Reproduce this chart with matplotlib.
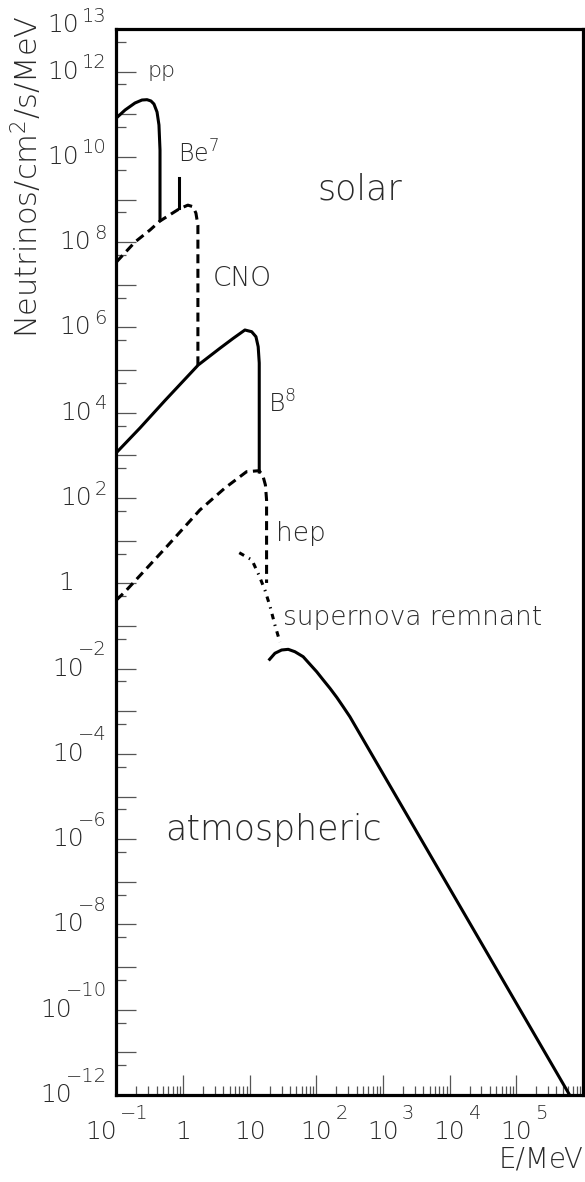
import numpy as np
import matplotlib
matplotlib.use("Agg")
import matplotlib.pyplot as plt
import matplotlib.transforms as mtransforms
from matplotlib.ticker import FixedLocator, NullFormatter

# Neutrino flux spectra: energy in MeV, flux in neutrinos / cm^2 / s / MeV
pp_E = [0.100, 0.135, 0.190, 0.242, 0.288, 0.330, 0.366, 0.407, 0.435, 0.451, 0.451]
pp_F = [8.2e10, 1.26e11, 1.84e11, 2.16e11, 2.2e11, 2.05e11, 1.74e11, 1.13e11, 5.6e10, 1.45e10, 3.3e8]

be7_E = [0.87, 0.87]
be7_F = [3.2e9, 6.3e8]

cno_E = [0.100, 0.190, 0.319, 0.451, 0.869, 1.18, 1.41, 1.56, 1.67, 1.67]
cno_F = [3.43e7, 1.01e8, 1.93e8, 3.14e8, 6.0e8, 7.4e8, 6.8e8, 4.8e8, 2.5e8, 1.32e5]

b8_E = [0.100, 0.226, 0.536, 1.69, 3.57, 5.66, 8.47, 10.7, 12.4, 13.4, 13.9, 13.9]
b8_F = [1.16e3, 4.40e3, 1.94e4, 1.32e5, 3.25e5, 5.57e5, 8.73e5, 7.96e5, 6.08e5, 3.54e5,
        1.47e5, 408]

hep_E = [0.100, 0.135, 0.568, 1.79, 4.25, 8.97, 13.9, 15.8, 17.2, 17.9, 17.9]
hep_F = [0.406, 0.637, 7.23, 52.5, 172, 415, 438, 329, 202, 90, 1.02]

snr_E = [6.97, 10.8, 13.7, 16.9, 20.1, 23.9, 28.4]
snr_F = [5.22, 3.52, 1.57, 0.697, 0.294, 0.105, 0.042]

atm_E = [19.9, 23.9, 30.1, 37.8, 47.6, 63.4, 77.1, 101, 125, 160, 203, 252, 318, 6.3e5]
atm_F = [1.65e-2, 2.29e-2, 2.73e-2, 2.83e-2, 2.49e-2, 1.90e-2, 1.35e-2, 8.46e-3, 5.56e-3,
         3.45e-3, 2.10e-3, 1.28e-3, 7.45e-4, 1.0e-12]

# Axis decades and labels
x_label_exps = [-1, 0, 1, 2, 3, 4, 5]
y_label_exps = [13, 12, 10, 8, 6, 4, 2, 0, -2, -4, -6, -8, -10, -12]

# Curve annotations: (text, E, flux, fontsize)
annotations = [
    ("pp", 0.288, 7.5e11, 16),
    (r"Be$^7$", 0.843, 7.2e9, 17),
    ("CNO", 2.81, 9.4e6, 19),
    ("solar", 105, 1.03e9, 25),
    (r"B$^8$", 18.7, 9.9e3, 18),
    ("hep", 24.7, 9.8, 19),
    ("supernova remnant", 31.5, 0.105, 19),
    ("atmospheric", 0.536, 9.6e-7, 25),
]

plt.rcParams["font.family"] = ["DejaVu Sans"]
plt.rcParams["font.weight"] = "light"
plt.rcParams["mathtext.fontset"] = "dejavusans"
plt.rcParams["lines.scale_dashes"] = False

W, H = 585, 1182
fig = plt.figure(figsize=(W / 100, H / 100), dpi=100)
fig.patch.set_facecolor("white")

left_px, right_px, top_px, bottom_px = 116.4, 583.0, 29.0, 1095.0
ax = fig.add_axes([left_px / W, 1 - bottom_px / H,
                   (right_px - left_px) / W, (bottom_px - top_px) / H])
ax.set_xscale("log")
ax.set_yscale("log")
ax.set_xlim(1e-1, 1e6)
ax.set_ylim(1e-12, 1e13)

for sp in ax.spines.values():
    sp.set_linewidth(2.3)
    sp.set_color("black")

# ticks: inward, left and bottom only
ax.yaxis.set_major_locator(FixedLocator([10.0 ** k for k in range(-12, 14)]))
ax.yaxis.set_minor_locator(FixedLocator([5 * 10.0 ** k for k in range(-13, 13)]))
ax.xaxis.set_major_locator(FixedLocator([10.0 ** k for k in range(-1, 7)]))
ax.xaxis.set_minor_locator(FixedLocator([m * 10.0 ** k for k in range(-1, 6) for m in range(2, 10)]))
for axis in (ax.xaxis, ax.yaxis):
    axis.set_major_formatter(NullFormatter())
    axis.set_minor_formatter(NullFormatter())
ax.tick_params(axis="both", which="major", direction="in", length=14.5, width=0.9,
               color="#555555", top=False, right=False)
ax.tick_params(axis="both", which="minor", direction="in", length=6.5, width=0.9,
               color="#555555", top=False, right=False)
ax.tick_params(axis="y", which="minor", length=7.2)

lw = 2.2
dash = (6.5, 4)
ax.plot(pp_E, pp_F, color="black", lw=lw, solid_joinstyle="round")
ax.plot(be7_E, be7_F, color="black", lw=lw)
ax.plot(cno_E, cno_F, color="black", lw=lw, dashes=dash)
ax.plot(b8_E, b8_F, color="black", lw=lw, solid_joinstyle="round")
ax.plot(hep_E, hep_F, color="black", lw=lw, dashes=dash)
ax.plot(snr_E, snr_F, color="black", lw=lw, dashes=(4, 4, 1, 4))
ax.plot(atm_E, atm_F, color="black", lw=lw, solid_joinstyle="round")

text_color = "#2a2a2a"
for txt, ex, fy, fs in annotations:
    ax.text(ex, fy, txt, fontsize=fs, color=text_color, ha="left", va="baseline")

# y tick labels, drawn as base "10" plus a raised exponent
ytrans = mtransforms.blended_transform_factory(ax.transAxes, ax.transData)
for k in y_label_exps:
    yv = 10.0 ** k
    if k == 0:
        ax.annotate("1", xy=(0, yv), xycoords=ytrans, xytext=(-42, 0),
                    textcoords="offset pixels", ha="right", va="center",
                    fontsize=18, color=text_color, annotation_clip=False)
        continue
    raise_px = 9 if k > 0 else 19
    drop = 4 if k == 13 else 0
    exp_txt = ("\u2212" + str(-k)) if k < 0 else str(k)
    e = ax.annotate(exp_txt, xy=(0, yv), xycoords=ytrans, xytext=(-9.4, raise_px + drop),
                    textcoords="offset pixels", ha="right", va="center",
                    fontsize=14, color=text_color, annotation_clip=False)
    gap = 6 if k < 0 else -3
    ax.annotate("10", xy=(0, 0.5), xycoords=e, xytext=(gap, -raise_px),
                textcoords="offset pixels", ha="right", va="center",
                fontsize=18, color=text_color, annotation_clip=False)

# x tick labels
xtrans = mtransforms.blended_transform_factory(ax.transData, ax.transAxes)
for k in x_label_exps:
    xv = 10.0 ** k
    if k == 0:
        ax.annotate("1", xy=(xv, 0), xycoords=xtrans, xytext=(0, -36.7),
                    textcoords="offset pixels", ha="center", va="center",
                    fontsize=18, color=text_color, annotation_clip=False)
        continue
    shift = -15 if k < 0 else 0
    b = ax.annotate("10", xy=(xv, 0), xycoords=xtrans, xytext=(shift, -36.7),
                    textcoords="offset pixels", ha="center", va="center",
                    fontsize=18, color=text_color, annotation_clip=False)
    if k == 1:
        continue
    exp_txt = ("\u2212" + str(-k)) if k < 0 else str(k)
    ax.annotate(exp_txt, xy=(1, 0.5), xycoords=b, xytext=(3, 18),
                textcoords="offset pixels", ha="left", va="center",
                fontsize=14, color=text_color, annotation_clip=False)

fig.text(583 / W, 1 - 1160 / H, "E/MeV", ha="right", va="center",
         fontsize=20, color=text_color)
fig.text(27 / W, 1 - 15 / H, r"Neutrinos/cm$^2$/s/MeV", rotation=90,
         ha="center", va="top", fontsize=22, color=text_color)

fig.savefig("out.png", dpi=100, facecolor="white")
